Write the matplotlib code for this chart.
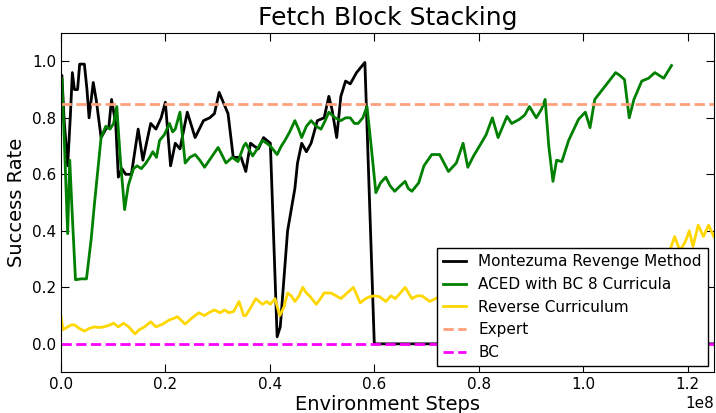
import numpy as np
import matplotlib
matplotlib.use("Agg")
import matplotlib.pyplot as plt

# valori (x in unità di 1e8 passi)
montezuma_x = [0.0, 0.002, 0.006, 0.013, 0.018, 0.022, 0.026, 0.032, 0.036, 0.045, 0.050, 0.054,
               0.062, 0.068, 0.077, 0.086, 0.092, 0.097, 0.105, 0.110, 0.117, 0.124, 0.135,
               0.148, 0.157, 0.165, 0.172, 0.182, 0.192, 0.200, 0.210, 0.219, 0.228, 0.242,
               0.257, 0.265, 0.273, 0.285, 0.294, 0.303, 0.312, 0.320, 0.330, 0.345, 0.354,
               0.363, 0.370, 0.378, 0.388, 0.401, 0.414, 0.420, 0.434, 0.448, 0.453, 0.461,
               0.470, 0.479, 0.491, 0.504, 0.513, 0.519, 0.528, 0.536, 0.545, 0.554, 0.566,
               0.582, 0.600, 0.8, 1.0, 1.25]
montezuma_y = [0.80, 0.95, 0.80, 0.63, 0.80, 0.96, 0.90, 0.90, 0.99, 0.99, 0.90, 0.80,
               0.925, 0.86, 0.73, 0.76, 0.77, 0.865, 0.78, 0.59, 0.62, 0.60, 0.60,
               0.76, 0.65, 0.72, 0.78, 0.76, 0.80, 0.855, 0.63, 0.71, 0.69, 0.82,
               0.73, 0.76, 0.79, 0.80, 0.815, 0.89, 0.85, 0.815, 0.66, 0.66, 0.61,
               0.71, 0.70, 0.69, 0.73, 0.71, 0.025, 0.06, 0.40, 0.55, 0.64, 0.71,
               0.68, 0.71, 0.79, 0.80, 0.876, 0.83, 0.73, 0.876, 0.93, 0.92, 0.96,
               0.996, 0.0, 0.0, 0.0, 0.0]

aced_x = [0.0, 0.002, 0.007, 0.013, 0.017, 0.022, 0.028, 0.039, 0.049, 0.058, 0.064, 0.077,
          0.086, 0.094, 0.101, 0.107, 0.114, 0.122, 0.129, 0.139, 0.146, 0.154, 0.163,
          0.170, 0.176, 0.183, 0.189, 0.198, 0.208, 0.214, 0.219, 0.228, 0.238, 0.247,
          0.257, 0.266, 0.275, 0.288, 0.301, 0.308, 0.316, 0.328, 0.339, 0.350, 0.354,
          0.367, 0.376, 0.386, 0.394, 0.401, 0.414, 0.422, 0.429, 0.438, 0.448, 0.455,
          0.461, 0.470, 0.479, 0.489, 0.498, 0.506, 0.513, 0.525, 0.536, 0.545, 0.554,
          0.562, 0.569, 0.578, 0.586, 0.594, 0.603, 0.612, 0.622, 0.630, 0.639, 0.650,
          0.659, 0.665, 0.672, 0.685, 0.695, 0.710, 0.725, 0.742, 0.757, 0.770, 0.779,
          0.790, 0.803, 0.814, 0.826, 0.837, 0.854, 0.863, 0.878, 0.888, 0.897, 0.910,
          0.920, 0.927, 0.934, 0.942, 0.949, 0.959, 0.972, 0.991, 1.004, 1.013, 1.022,
          1.041, 1.062, 1.070, 1.079, 1.088, 1.097, 1.112, 1.125, 1.137, 1.154, 1.169]
aced_y = [0.90, 0.94, 0.70, 0.39, 0.65, 0.45, 0.227, 0.23, 0.23, 0.37, 0.49, 0.73,
          0.77, 0.76, 0.78, 0.84, 0.65, 0.475, 0.56, 0.62, 0.63, 0.62, 0.64,
          0.66, 0.68, 0.66, 0.72, 0.74, 0.78, 0.75, 0.76, 0.82, 0.64, 0.66,
          0.67, 0.65, 0.625, 0.66, 0.695, 0.67, 0.64, 0.66, 0.645, 0.70, 0.71,
          0.665, 0.69, 0.72, 0.71, 0.70, 0.67, 0.70, 0.72, 0.75, 0.79, 0.76,
          0.73, 0.77, 0.79, 0.77, 0.76, 0.79, 0.82, 0.80, 0.79, 0.80, 0.80,
          0.78, 0.78, 0.80, 0.84, 0.70, 0.535, 0.57, 0.59, 0.56, 0.54, 0.56,
          0.575, 0.55, 0.54, 0.57, 0.63, 0.67, 0.67, 0.61, 0.64, 0.71, 0.625,
          0.665, 0.705, 0.74, 0.80, 0.73, 0.805, 0.78, 0.795, 0.81, 0.84, 0.80,
          0.83, 0.865, 0.70, 0.575, 0.65, 0.645, 0.72, 0.795, 0.82, 0.765, 0.865,
          0.91, 0.96, 0.95, 0.935, 0.80, 0.865, 0.93, 0.94, 0.96, 0.94, 0.985]

reverse_x = [0.0, 0.004, 0.013, 0.020, 0.026, 0.035, 0.045, 0.055, 0.064, 0.073, 0.082, 0.091,
             0.101, 0.110, 0.120, 0.130, 0.142, 0.150, 0.160, 0.172, 0.182, 0.195, 0.208,
             0.216, 0.223, 0.238, 0.250, 0.264, 0.275, 0.283, 0.294, 0.305, 0.313, 0.322,
             0.331, 0.341, 0.350, 0.354, 0.364, 0.373, 0.386, 0.394, 0.401, 0.410, 0.419,
             0.427, 0.434, 0.441, 0.448, 0.456, 0.463, 0.470, 0.476, 0.489, 0.497, 0.504,
             0.517, 0.527, 0.536, 0.548, 0.560, 0.573, 0.583, 0.592, 0.601, 0.610, 0.622,
             0.632, 0.640, 0.650, 0.659, 0.672, 0.682, 0.691, 0.706, 0.725, 0.740, 0.760,
             0.780, 0.800, 0.830, 0.860, 0.890, 0.920, 0.950, 0.980, 1.010, 1.040, 1.070,
             1.100, 1.108, 1.116, 1.130, 1.142, 1.153, 1.160, 1.175, 1.185, 1.195, 1.203,
             1.210, 1.220, 1.230, 1.240, 1.250]
reverse_y = [0.10, 0.05, 0.06, 0.067, 0.067, 0.055, 0.045, 0.055, 0.06, 0.058, 0.06, 0.065,
             0.073, 0.06, 0.073, 0.06, 0.035, 0.05, 0.06, 0.078, 0.06, 0.07, 0.085,
             0.09, 0.096, 0.07, 0.09, 0.11, 0.10, 0.11, 0.12, 0.11, 0.12, 0.11,
             0.115, 0.15, 0.10, 0.10, 0.13, 0.16, 0.14, 0.15, 0.14, 0.16, 0.10,
             0.13, 0.18, 0.17, 0.15, 0.17, 0.20, 0.18, 0.17, 0.14, 0.16, 0.18,
             0.18, 0.17, 0.16, 0.18, 0.20, 0.145, 0.16, 0.167, 0.17, 0.167, 0.15,
             0.17, 0.16, 0.18, 0.20, 0.16, 0.17, 0.17, 0.15, 0.167, 0.17, 0.17,
             0.18, 0.17, 0.19, 0.18, 0.20, 0.21, 0.22, 0.24, 0.25, 0.27, 0.29,
             0.31, 0.325, 0.30, 0.33, 0.32, 0.33, 0.30, 0.38, 0.33, 0.36, 0.40,
             0.345, 0.42, 0.38, 0.42, 0.38]

expert_level = 0.85
bc_level = 0.0

plt.rcParams['font.family'] = 'DejaVu Sans'
plt.rcParams['xtick.direction'] = 'in'
plt.rcParams['ytick.direction'] = 'in'
plt.rcParams['xtick.top'] = True
plt.rcParams['ytick.right'] = True
plt.rcParams['xtick.major.size'] = 6
plt.rcParams['ytick.major.size'] = 6

fig = plt.figure(figsize=(7.16, 4.13), dpi=100)
ax = fig.add_axes([0.085, 0.099, 0.912, 0.821])

scala = 1e8
ax.plot(np.array(montezuma_x) * scala, montezuma_y, color='black', lw=2, label='Montezuma Revenge Method')
ax.plot(np.array(aced_x) * scala, aced_y, color='green', lw=2, label='ACED with BC 8 Curricula')
ax.plot(np.array(reverse_x) * scala, reverse_y, color='gold', lw=2, label='Reverse Curriculum')
ax.axhline(expert_level, color='lightsalmon', lw=2, ls='--', label='Expert')
ax.axhline(bc_level, color='magenta', lw=2, ls='--', label='BC')

ax.set_xlim(0, 1.25e8)
ax.set_ylim(-0.1, 1.1)
ax.set_yticks([0.0, 0.2, 0.4, 0.6, 0.8, 1.0])
ax.set_xticks([0.0, 0.2e8, 0.4e8, 0.6e8, 0.8e8, 1.0e8, 1.2e8])
ax.tick_params(labelsize=11)
ax.xaxis.get_offset_text().set_fontsize(11)

ax.set_title('Fetch Block Stacking', fontsize=18)
ax.set_xlabel('Environment Steps', fontsize=14, labelpad=2)
ax.set_ylabel('Success Rate', fontsize=14)

leg = ax.legend(loc='lower right', fontsize=11, fancybox=False, framealpha=1,
                edgecolor='black', borderaxespad=0.4, handlelength=1.5)
leg.get_frame().set_linewidth(1)

fig.savefig('out.png', dpi=100)
